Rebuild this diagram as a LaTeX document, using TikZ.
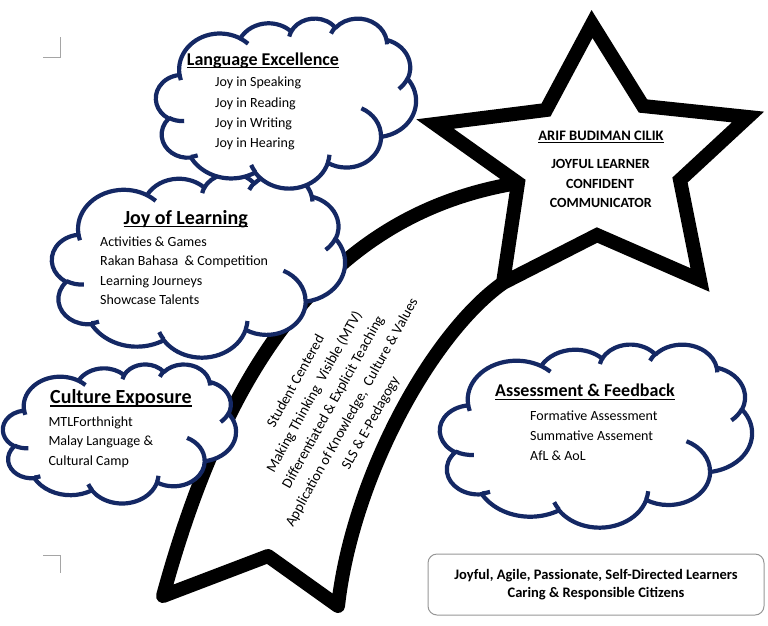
\documentclass[tikz,border=0pt]{standalone}
\usepackage{fontspec}
\setmainfont{Carlito}

% elliptical arc given by radii, start angle and sweep (angles measured on the
% ellipse as seen, converted here to the parametric angles TikZ expects)
\newcommand{\oang}[3]{(#3)+atan(((#1)-(#2))*sin(#3)*cos(#3)/((#2)*(cos(#3))^2+(#1)*(sin(#3))^2))}
\newcommand{\oarc}[4]{arc[x radius=#1, y radius=#2, start angle={\oang{#1}{#2}{#3}}, end angle={\oang{#1}{#2}{(#3)+(#4)}}]}

% cloud outline with its inner puff arcs, drawn in a 43.2 x 43.2 box
\newcommand{\puffcloud}[4]{%
  \begin{scope}[shift={(#1,#2)}, xscale=#3/43.2, yscale=#4/43.2]
    \draw[cloudline, fill=white] (3.900,14.370)
      \oarc{6.753}{9.190}{-190.4875}{123.7805}
      \oarc{5.333}{7.267}{-144.1024}{89.9452}
      \oarc{4.365}{5.945}{-145.8079}{99.7230}
      \oarc{4.857}{6.595}{-130.9861}{117.2417}
      \oarc{5.333}{7.273}{-78.7089}{109.0269}
      \oarc{6.775}{9.220}{-46.2673}{130.2690}
      \oarc{5.785}{7.867}{0.6250}{114.0333}
      \oarc{6.752}{9.215}{22.4516}{115.1726}
      \oarc{7.720}{10.543}{66.2426}{75.7110}
      \oarc{4.360}{5.918}{-274.9421}{146.7356}
      \oarc{4.345}{5.945}{-246.8285}{152.5189}
      -- cycle;
    \draw[cloudline]
      (4.693,26.177) \oarc{4.345}{5.945}{86.7420}{26.4295}
      (6.928,34.899) \oarc{4.360}{5.918}{73.6105}{11.4475}
      (16.478,39.090) \oarc{6.752}{9.215}{137.6242}{14.0811}
      (28.827,34.751) \oarc{6.752}{9.215}{6.4533}{15.9984}
      (34.129,22.954) \oarc{5.785}{7.867}{-70.2924}{70.9174}
      (41.798,15.354) \oarc{5.333}{7.273}{30.3180}{27.7515}
      (38.324,5.426) \oarc{4.857}{6.595}{-13.7443}{14.8589}
      (29.078,3.952) \oarc{4.857}{6.595}{-149.1815}{18.1954}
      (22.141,4.720) \oarc{4.365}{5.945}{-163.4943}{17.6864}
      (14.000,5.192) \oarc{6.753}{9.190}{-66.7070}{12.3194}
      (4.127,15.789) \oarc{6.753}{9.190}{157.6544}{11.8582};
  \end{scope}}

% bold heading with a heavy underline
\newcommand{\ulhead}[1]{\setbox0=\hbox{#1}\rlap{\rule[-3.4pt]{\wd0}{1.5pt}}\box0}

\definecolor{cloudblue}{RGB}{20,40,100}
\definecolor{markgray}{RGB}{165,165,165}
\definecolor{boxgray}{RGB}{150,150,150}

\begin{document}
\begin{tikzpicture}[x=1pt, y=-1pt,
  cloudline/.style={draw=cloudblue, line width=4.2pt, line join=round},
  starline/.style={draw=black, line width=14pt, line join=miter, miter limit=20},
  tailline/.style={draw=black, line width=14pt, line join=round},
  cloudhead/.style={font=\fontsize{#1}{#1}\selectfont\bfseries, inner sep=0pt, anchor=base west},
  clouditem/.style={font=\fontsize{14}{16}\selectfont, inner sep=0pt, anchor=base west},
  starhead/.style={font=\fontsize{14.5}{16}\selectfont\bfseries, inner sep=0pt, anchor=base},
  staritem/.style={font=\fontsize{14}{16}\selectfont\bfseries, inner sep=0pt, anchor=base},
  tailtext/.style={font=\fontsize{14.5}{21.4}\selectfont, align=center, rotate=61, inner sep=0pt},
  outcomebox/.style={draw=boxgray, line width=1pt, rounded corners=9pt, minimum width=336pt,
    minimum height=61pt, align=center, font=\fontsize{14.5}{18}\selectfont\bfseries, inner sep=0pt},
  cropmark/.style={draw=markgray, line width=1pt}]

\useasboundingbox (0,0) rectangle (768,625);

% page corner marks
\draw[cropmark] (43,57) -- (60,57) -- (60,37);
\draw[cropmark] (43,555) -- (60,555) -- (60,573);

% star points (stroke centre line)
\coordinate (sTop) at (592,24);
\coordinate (sTR)  at (643,106);
\coordinate (sR)   at (748,117);
\coordinate (sRL)  at (680,180);
\coordinate (sLR)  at (700,280);
\coordinate (sB)   at (597,235);
\coordinate (sLL)  at (503,283);
\coordinate (sLC)  at (518,183);
\coordinate (sL)   at (435,124);
\coordinate (sTL)  at (546,110);

% tail of the shooting star
\coordinate (tBR) at (338,606);
\coordinate (tNotch) at (268,556);
\coordinate (tBL) at (163,596);
\draw[tailline] (sLL) .. controls (430,335) and (352,480) .. (tBR)
  -- (tNotch) -- (tBL) .. controls (222,380) and (320,215) .. (sLC);

% the star
\draw[starline] (sTop) -- (sTR) -- (sR) -- (sRL) -- (sLR) -- (sB) -- (sLL)
  -- (sLC) -- (sL) -- (sTL) -- cycle;

\node[starhead] (starname) at (601,140) {\ulhead{ARIF BUDIMAN CILIK}};
\node[staritem] (star1) at (600.5,168.3) {JOYFUL LEARNER};
\node[staritem] (star2) at (600,188.3) {CONFIDENT};
\node[staritem] (star3) at (600.8,207.3) {COMMUNICATOR};

% text along the tail
\node[tailtext] (pedagogy) at (333.6,402.3)
  {Student Centered\\Making Thinking~ Visible (MTV)\\Differentiated \& Explicit Teaching\\
   Application of Knowledge,~ Culture \& Values\\SLS \& E-Pedagogy};

% clouds
\puffcloud{52}{173}{293}{184}
\puffcloud{156}{18}{260}{170}
\puffcloud{3}{364}{233}{139}
\puffcloud{440}{344}{312}{183}

\node[cloudhead=18] (lehead) at (186.7,65) {\ulhead{Language Excellence}};
\node[clouditem] (le1) at (215,86.7) {Joy in Speaking};
\node[clouditem] (le2) at (215,107.3) {Joy in Reading};
\node[clouditem] (le3) at (215,127.3) {Joy in Writing};
\node[clouditem] (le4) at (215,147.7) {Joy in Hearing};

\node[cloudhead=20] (jlhead) at (123.3,224) {\ulhead{Joy of Learning}};
\node[clouditem] (jl1) at (100,246) {Activities \& Games};
\node[clouditem] (jl2) at (100,265.5) {Rakan Bahasa~ \& Competition};
\node[clouditem] (jl3) at (100,285) {Learning Journeys};
\node[clouditem] (jl4) at (100,304.3) {Showcase Talents};

\node[cloudhead=20] (cehead) at (50,403.3) {\ulhead{Culture Exposure}};
\node[clouditem] (ce1) at (48.3,426) {MTLForthnight};
\node[clouditem] (ce2) at (48.3,445.7) {Malay Language \&};
\node[clouditem] (ce3) at (48.3,465) {Cultural Camp};

\node[cloudhead=18] (afhead) at (495,396.7) {\ulhead{Assessment \& Feedback}};
\node[clouditem] (af1) at (530,420) {Formative Assessment};
\node[clouditem] (af2) at (530,440) {Summative Assement};
\node[clouditem] (af3) at (530,460) {AfL \& AoL};

% learner outcomes
\node[outcomebox] (outcome) at (596,584.5)
  {Joyful, Agile, Passionate, Self-Directed Learners\\Caring \& Responsible Citizens};

\end{tikzpicture}
\end{document}
